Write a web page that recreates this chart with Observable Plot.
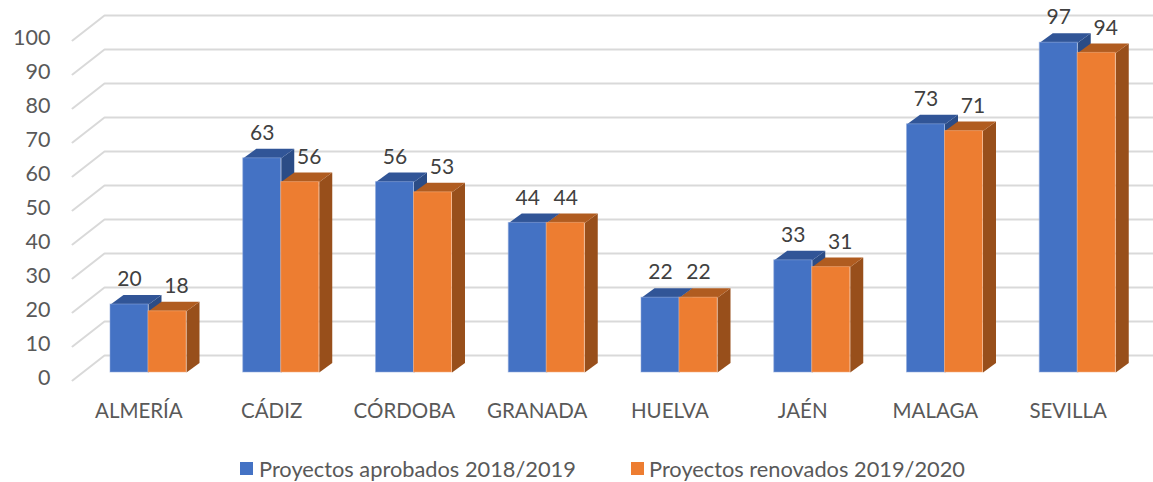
<!DOCTYPE html>
<html><head><meta charset="utf-8">
<script src="https://cdn.jsdelivr.net/npm/d3@7"></script>
<script src="https://cdn.jsdelivr.net/npm/@observablehq/plot@0.6"></script>
<style>
html,body{margin:0;padding:0;background:#fff;overflow:hidden}
#legend{position:relative;height:34px;font-family:Lato,sans-serif;font-size:21.8px;color:#595959}
#legend span{position:absolute;top:8px;white-space:nowrap;line-height:26px}
#legend i{position:absolute;top:14px;width:13px;height:13px}
</style></head><body>
<div id="chart"></div>
<div id="legend"></div>
<script>
const categories = ["ALMERÍA","CÁDIZ","CÓRDOBA","GRANADA","HUELVA","JAÉN","MALAGA","SEVILLA"];
const aprobados = [20,63,56,44,22,33,73,97];
const renovados = [18,56,53,44,22,31,71,94];
const yTicks = [0,10,20,30,40,50,60,70,80,90,100];
const seriesNames = ["Proyectos aprobados 2018/2019","Proyectos renovados 2019/2020"];

const cell = 132.75, ppu = 3.4;
const px = p => p / cell, pu = p => p / ppu;
const base = pu(8), barW = px(38), ddx = px(13), ddy = pu(9.5), barStart = px(38);
const wallX = px(32), wallY = pu(25);

const grid = yTicks.flatMap(v => [
  {v, x: 0, y: v},
  {v, x: wallX, y: v + wallY},
  {v, x: 8 + wallX, y: v + wallY}
]);

function bars(values, slot) {
  return values.map((v, i) => ({i, v, x1: i + barStart + slot * barW, x2: i + barStart + (slot + 1) * barW, y1: base, y2: base + v}));
}
const face = (rows, pts) => rows.flatMap(b => pts(b).map(([x, y]) => ({id: b.i, x, y})));
const topFace = b => [[b.x1,b.y2],[b.x2,b.y2],[b.x2+ddx,b.y2+ddy],[b.x1+ddx,b.y2+ddy]];
const sideFace = b => [[b.x2,b.y1],[b.x2,b.y2],[b.x2+ddx,b.y2+ddy],[b.x2+ddx,b.y1+ddy]];

const blue = bars(aprobados, 0), orange = bars(renovados, 1);
const barMarks = (rows, front, top, side, edge) => [
  Plot.line(face(rows, sideFace), {x:"x", y:"y", z:"id", fill:side, stroke:"none"}),
  Plot.line(face(rows, topFace), {x:"x", y:"y", z:"id", fill:top, stroke:"none"}),
  Plot.rect(rows, {x1:"x1", x2:"x2", y1:"y1", y2:"y2", fill:front, stroke:edge, strokeWidth:1, strokeOpacity:0.55})
];
const labelRows = [
  ...blue.map(b => ({x: b.x1 + px(19), y: b.y2 + pu(25), t: b.v})),
  ...orange.map((b, k) => ({x: b.x1 + px(b.v === aprobados[k] ? 19 : 28), y: b.y2 + pu(25), t: b.v}))
];

const chart = Plot.plot({
  width: 1153, height: 448,
  marginTop: 0, marginBottom: 48, marginLeft: 60, marginRight: 0,
  x: {domain:[0,8], range:[72,72 + 8 * cell]},
  y: {domain:[0,100], range:[380,40]},
  style: {fontFamily:"Lato, sans-serif", background:"transparent"},
  marks: [
    Plot.line(grid, {x:"x", y:"y", z:"v", stroke:"#d9d9d9", strokeWidth:2, clip:true}),
    ...barMarks(blue, "#4472C4", "#315597", "#2B4C86", "#8FAADC"),
    ...barMarks(orange, "#ED7D31", "#B05C20", "#984F1B", "#F4B183"),
    Plot.text(labelRows, {x:"x", y:"y", text:"t", fontSize:21, fill:"#404040"}),
    Plot.axisY(yTicks, {anchor:"left", tickSize:0, tickPadding:10, fontSize:21.5, fill:"#595959", label:null, dy:-2, tickFormat:d=>String(d)}),
    Plot.axisX(categories.map((_, i) => i + 0.5), {anchor:"bottom", tickSize:0, tickPadding:3, fontSize:20.5, fill:"#595959", label:null, tickFormat:d=>categories[d - 0.5]})
  ]
});
document.getElementById("chart").appendChild(chart);

const legend = document.getElementById("legend");
[["#4472C4",240,259],["#ED7D31",631,649]].forEach(([c,sx,tx],k) => {
  const i = document.createElement("i"); i.style.background=c; i.style.left=sx+"px"; legend.appendChild(i);
  const s = document.createElement("span"); s.textContent=seriesNames[k]; s.style.left=tx+"px"; legend.appendChild(s);
});
</script></body></html>
